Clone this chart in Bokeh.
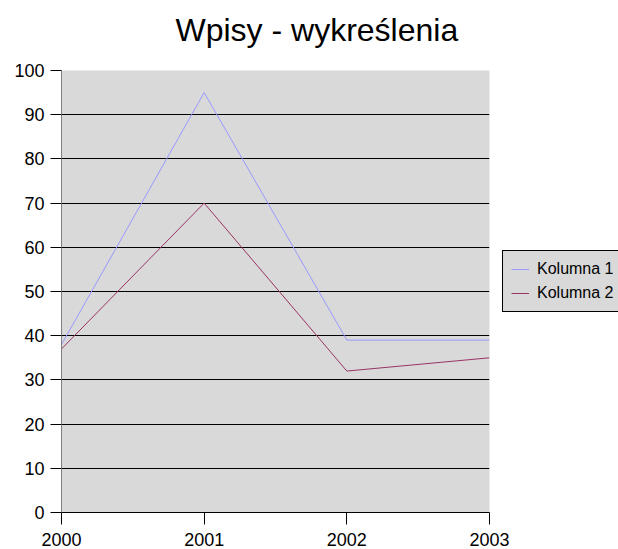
from bokeh.plotting import figure
from bokeh.models import ColumnDataSource, FixedTicker, Legend, LegendItem, Range1d, Title
from bokeh.embed import file_html
from bokeh.resources import INLINE

years = [2000, 2001, 2002, 2003]
kolumna_1 = [38, 95, 39, 39]
kolumna_2 = [37, 70, 32, 35]
y_ticks = [0, 10, 20, 30, 40, 50, 60, 70, 80, 90, 100]

src = ColumnDataSource(dict(x=years, k1=kolumna_1, k2=kolumna_2))

FONT = "Liberation Sans"

p = figure(width=618, height=549, output_backend="svg", toolbar_location=None,
           x_range=Range1d(2000, 2003), y_range=Range1d(0, 100),
           frame_width=428, frame_height=442,
           min_border_left=61, min_border_right=129, min_border_top=70, min_border_bottom=37,
           title="Wpisy - wykreślenia")
p.background_fill_color = "#d9d9d9"
p.border_fill_color = "white"
p.outline_line_color = None

p.title.text_font = FONT
p.title.text_font_size = "32px"
p.title.text_font_style = "normal"
p.title.align = "left"
p.title.offset = 114
p.title.standoff = 0
p.title.text_color = "black"

spacer = Title(text=" ", text_font_size="19px", standoff=0, text_color="white")
p.add_layout(spacer, "above")

r1 = p.line("x", "k1", source=src, line_color="#9999ff", line_width=1)
r2 = p.line("x", "k2", source=src, line_color="#993366", line_width=1)

p.xgrid.grid_line_color = None
p.ygrid.grid_line_color = "black"
p.ygrid.grid_line_alpha = 1
p.ygrid.ticker = FixedTicker(ticks=y_ticks)

p.yaxis.ticker = FixedTicker(ticks=y_ticks)
p.xaxis.ticker = FixedTicker(ticks=years)
for ax in (p.xaxis[0], p.yaxis[0]):
    ax.major_label_text_font = FONT
    ax.major_label_text_font_size = "18px"
    ax.major_label_text_color = "black"
    ax.minor_tick_line_color = None
    ax.major_tick_in = 0
    ax.major_tick_line_color = "black"
    ax.axis_line_color = "black"
p.yaxis.major_tick_out = 11
p.yaxis.major_label_standoff = 6
p.yaxis.axis_line_color = "#808080"
p.xaxis.major_tick_out = 12
p.xaxis.major_label_standoff = 8

legend = Legend(items=[LegendItem(label="Kolumna 1", renderers=[r1]),
                       LegendItem(label="Kolumna 2", renderers=[r2])],
                location=(13, 200))
legend.label_text_font = FONT
legend.label_text_font_size = "16px"
legend.label_text_color = "black"
legend.label_height = 20
legend.glyph_height = 20
legend.glyph_width = 18
legend.spacing = 4
legend.padding = 8
legend.margin = 0
legend.label_standoff = 8
legend.background_fill_color = "#d9d9d9"
legend.background_fill_alpha = 1
legend.border_line_color = "black"
legend.border_line_alpha = 1
legend.border_line_width = 1
p.add_layout(legend, "right")

open("out.html", "w").write(file_html(p, INLINE))
